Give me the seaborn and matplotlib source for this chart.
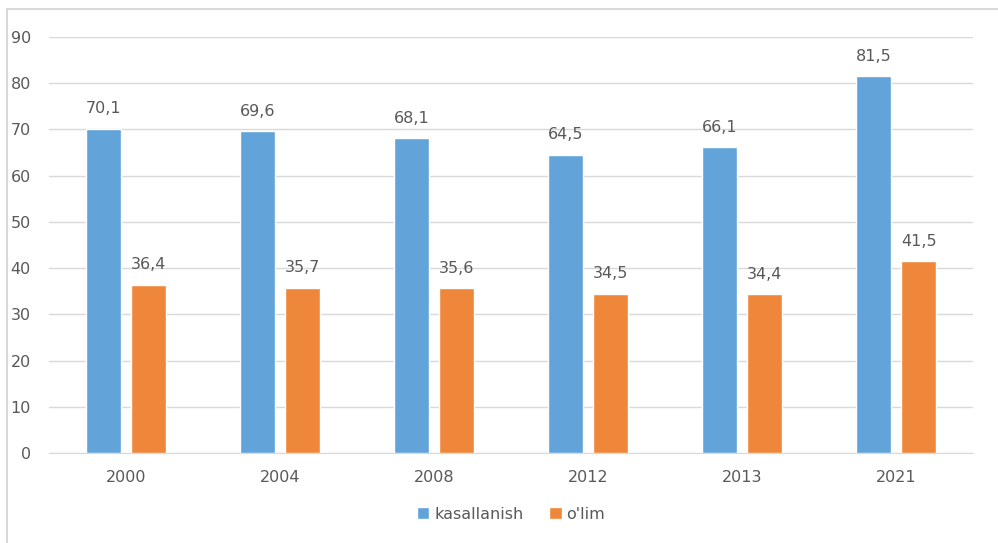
import pandas as pd
import matplotlib
matplotlib.use("Agg")
import matplotlib.pyplot as plt
import seaborn as sns
from matplotlib.patches import Rectangle

# Chart values
years = ["2000", "2004", "2008", "2012", "2013", "2021"]
kasallanish = [70.1, 69.6, 68.1, 64.5, 66.1, 81.5]
olim = [36.4, 35.7, 35.6, 34.5, 34.4, 41.5]
series_names = ["kasallanish", "o'lim"]

df = pd.DataFrame({
    "year": years * 2,
    "value": kasallanish + olim,
    "series": [series_names[0]] * len(years) + [series_names[1]] * len(years),
})

sns.set_style("white")
plt.rcParams["font.family"] = ["DejaVu Sans"]

fig = plt.figure(figsize=(9.98, 5.43), dpi=100)
ax = fig.add_axes([0.049, 0.1657, 0.926, 0.7662])

sns.barplot(data=df, x="year", y="value", hue="series", hue_order=series_names,
            palette=["#62A3DA", "#EE873A"], width=0.585, gap=0.24,
            saturation=1, ax=ax, legend=True, zorder=3)

# data labels with comma decimals
for cont in ax.containers:
    ax.bar_label(cont, labels=[f"{v:.1f}".replace(".", ",") for v in cont.datavalues],
                 padding=9, fontsize=11.5, color="#595959")

ax.set_ylim(0, 90)
ax.set_xlim(-0.5, 5.5)
ax.set_yticks(range(0, 91, 10))
ax.yaxis.grid(True, color="#D9D9D9", linewidth=1, zorder=0)
ax.set_xlabel("")
ax.set_ylabel("")
ax.tick_params(axis="both", length=0, labelsize=11.5, labelcolor="#595959")
ax.tick_params(axis="x", pad=12)
ax.tick_params(axis="y", pad=13)
for s in ["left", "right", "top"]:
    ax.spines[s].set_visible(False)
ax.spines["bottom"].set_color("#D9D9D9")

ax.legend(loc="upper center", bbox_to_anchor=(0.5, -0.095), ncol=2, frameon=False,
          fontsize=11.5, handlelength=0.8, handleheight=0.8, handletextpad=0.3,
          columnspacing=1.6, labelcolor="#595959")

# light outer frame (only left/top visible in the crop)
fig.patches.append(Rectangle((0.007, -0.1), 1.1, 1.083, transform=fig.transFigure,
                             fill=False, edgecolor="#D9D9D9", linewidth=1.5))

fig.savefig("out.png", dpi=100)
